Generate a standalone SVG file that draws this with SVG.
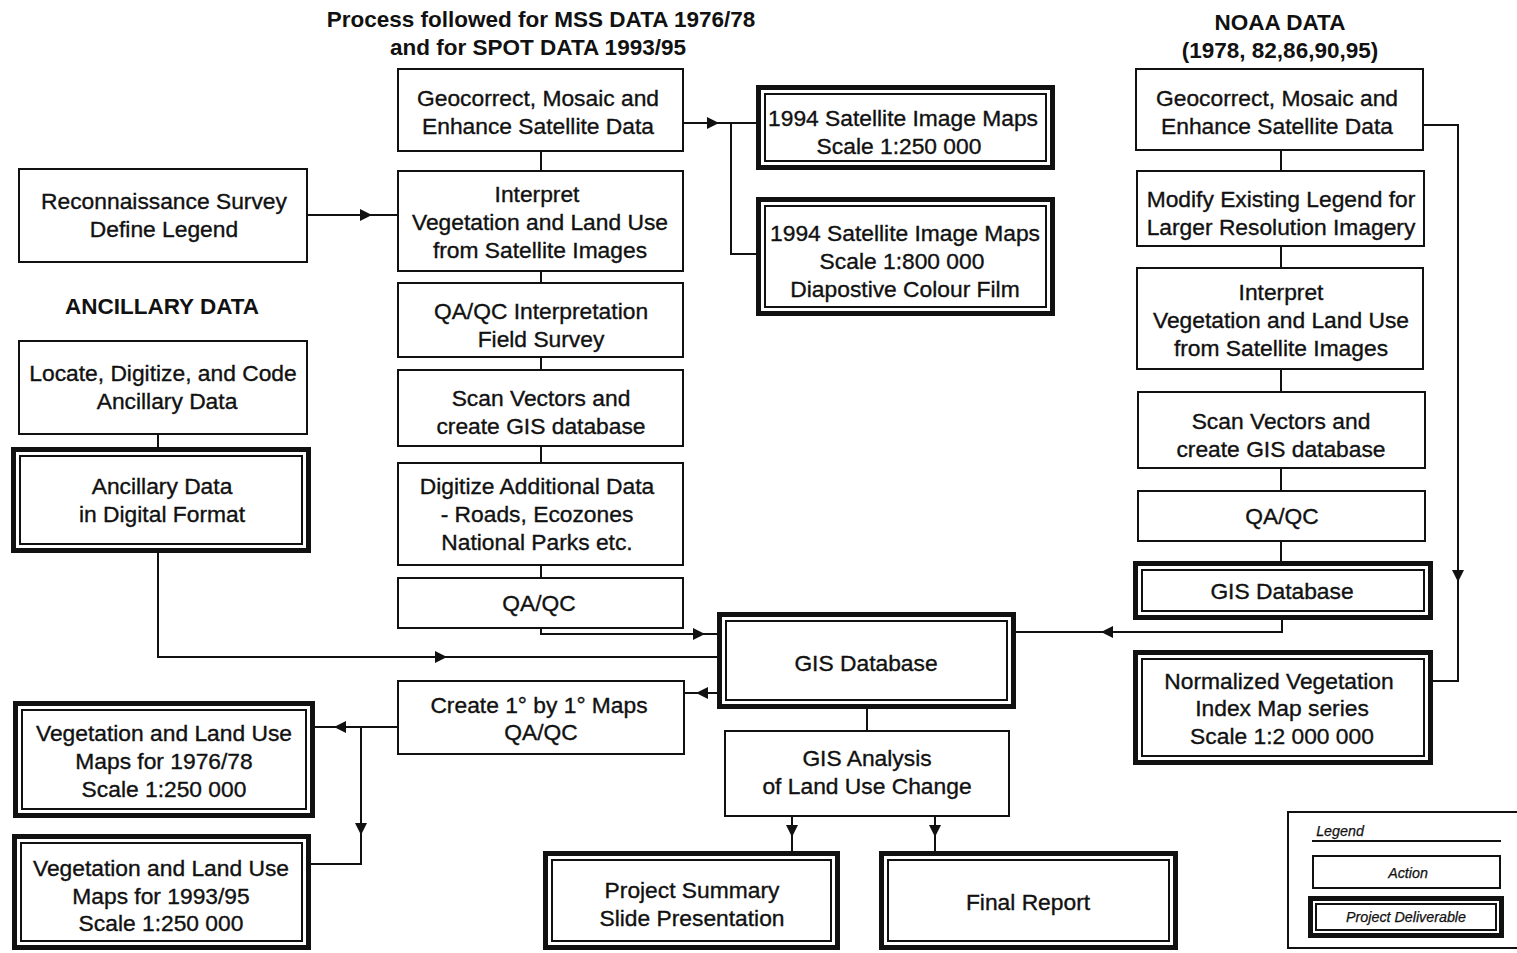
<svg xmlns="http://www.w3.org/2000/svg" xmlns:xlink="http://www.w3.org/1999/xlink" width="1517" height="953" viewBox="0 0 1517 953">
<style>
.bg{fill:#fff}
.act{fill:#fff;stroke:#111;stroke-width:2}
.dout{fill:#fff;stroke:#111;stroke-width:5}
.din{fill:none;stroke:#111;stroke-width:2}
.t{font-family:"Liberation Sans",Arial,Helvetica,sans-serif;font-size:22.8px;text-anchor:middle;fill:#111;stroke:#111;stroke-width:0.35}
.h{font-family:"Liberation Sans",Arial,Helvetica,sans-serif;font-size:22.5px;font-weight:bold;text-anchor:middle;fill:#111}
.lg{font-family:"Liberation Sans",Arial,Helvetica,sans-serif;font-size:14.3px;font-style:italic;text-anchor:middle;fill:#111;stroke:#111;stroke-width:0.25}
.c{fill:none;stroke:#111;stroke-width:2}
.ah{fill:#111}
</style>
<defs>
<path id="ah" class="ah" d="M6,0 L-6,-6 L-6,6 Z"/>
</defs>
<rect class="bg" x="0" y="0" width="1517" height="953"/>

<g id="headings">
<text class="h" x="541" y="27">Process followed for MSS DATA 1976/78</text>
<text class="h" x="538" y="55">and for SPOT DATA 1993/95</text>
<text class="h" x="1280" y="30">NOAA DATA</text>
<text class="h" x="1280" y="58">(1978, 82,86,90,95)</text>
<text class="h" x="162" y="314">ANCILLARY DATA</text>
</g>

<g id="connectors">
<path class="c" d="M541,151 V171 M541,271 V283 M541,357 V370 M541,446 V463 M541,565 V578"/>
<path class="c" d="M541,628 V634 H717"/>
<use xlink:href="#ah" transform="translate(699,634)"/>
<path class="c" d="M158,553 V657 H717"/>
<use xlink:href="#ah" transform="translate(441,657)"/>
<path class="c" d="M717,693 H684"/>
<use xlink:href="#ah" transform="translate(702,693) rotate(180)"/>
<path class="c" d="M307,215 H398"/>
<use xlink:href="#ah" transform="translate(366,215)"/>
<path class="c" d="M158,434 V447"/>
<path class="c" d="M398,727 H315 M361,727 V864 H311"/>
<use xlink:href="#ah" transform="translate(340,727) rotate(180)"/>
<use xlink:href="#ah" transform="translate(361,829) rotate(90)"/>
<path class="c" d="M683,123 H757 M731,123 V254 H757"/>
<use xlink:href="#ah" transform="translate(713,123)"/>
<path class="c" d="M867,709 V731"/>
<path class="c" d="M792,816 V851 M935,816 V851"/>
<use xlink:href="#ah" transform="translate(792,831) rotate(90)"/>
<use xlink:href="#ah" transform="translate(935,831) rotate(90)"/>
<path class="c" d="M1281,150 V171 M1281,246 V268 M1281,369 V392 M1281,468 V491 M1281,541 V561"/>
<path class="c" d="M1282,620 V632 H1016"/>
<use xlink:href="#ah" transform="translate(1107,632) rotate(180)"/>
<path class="c" d="M1423,125 H1458 V681 H1433"/>
<use xlink:href="#ah" transform="translate(1458,576) rotate(90)"/>
</g>

<g id="geocorrect-mss">
<rect class="act" x="398" y="69" width="285" height="82"/>
<text class="t" x="538" y="106">Geocorrect, Mosaic and</text>
<text class="t" x="538" y="134">Enhance Satellite Data</text>
</g>
<g id="interpret-mss">
<rect class="act" x="398" y="171" width="285" height="100"/>
<text class="t" x="537" y="202">Interpret</text>
<text class="t" x="540" y="230">Vegetation and Land Use</text>
<text class="t" x="540" y="258">from Satellite Images</text>
</g>
<g id="qaqc-interp">
<rect class="act" x="398" y="283" width="285" height="74"/>
<text class="t" x="541" y="319">QA/QC Interpretation</text>
<text class="t" x="541" y="347">Field Survey</text>
</g>
<g id="scan-mss">
<rect class="act" x="398" y="370" width="285" height="76"/>
<text class="t" x="541" y="406">Scan Vectors and</text>
<text class="t" x="541" y="434">create GIS database</text>
</g>
<g id="digitize">
<rect class="act" x="398" y="463" width="285" height="102"/>
<text class="t" x="537" y="494">Digitize Additional Data</text>
<text class="t" x="537" y="522">- Roads, Ecozones</text>
<text class="t" x="537" y="550">National Parks etc.</text>
</g>
<g id="qaqc-mss">
<rect class="act" x="398" y="578" width="285" height="50"/>
<text class="t" x="539" y="611">QA/QC</text>
</g>
<g id="create-maps">
<rect class="act" x="398" y="681" width="286" height="73"/>
<text class="t" x="539" y="713">Create 1° by 1° Maps</text>
<text class="t" x="541" y="740">QA/QC</text>
</g>

<g id="reconnaissance">
<rect class="act" x="19" y="169" width="288" height="93"/>
<text class="t" x="164" y="209">Reconnaissance Survey</text>
<text class="t" x="164" y="237">Define Legend</text>
</g>
<g id="locate">
<rect class="act" x="19" y="341" width="288" height="93"/>
<text class="t" x="163" y="381">Locate, Digitize, and Code</text>
<text class="t" x="167" y="409">Ancillary Data</text>
</g>
<g id="ancillary-digital">
<rect class="dout" x="13.5" y="449.5" width="295" height="101"/>
<rect class="din" x="20" y="456" width="282" height="88"/>
<text class="t" x="162" y="494">Ancillary Data</text>
<text class="t" x="162" y="522">in Digital Format</text>
</g>

<g id="sat-250">
<rect class="dout" x="758.5" y="87.5" width="294" height="80"/>
<rect class="din" x="765" y="94" width="281" height="67"/>
<text class="t" x="903" y="126">1994 Satellite Image Maps</text>
<text class="t" x="899" y="154">Scale 1:250 000</text>
</g>
<g id="sat-800">
<rect class="dout" x="758.5" y="199.5" width="294" height="114"/>
<rect class="din" x="765" y="206" width="281" height="101"/>
<text class="t" x="905" y="241">1994 Satellite Image Maps</text>
<text class="t" x="902" y="269">Scale 1:800 000</text>
<text class="t" x="905" y="297">Diapostive Colour Film</text>
</g>

<g id="gis-database">
<rect class="dout" x="719.5" y="614.5" width="294" height="92"/>
<rect class="din" x="726" y="621" width="281" height="79"/>
<text class="t" x="866" y="671">GIS Database</text>
</g>
<g id="gis-analysis">
<rect class="act" x="725" y="731" width="284" height="85"/>
<text class="t" x="867" y="766">GIS Analysis</text>
<text class="t" x="867" y="794">of Land Use Change</text>
</g>
<g id="project-summary">
<rect class="dout" x="545.5" y="853.5" width="292" height="94"/>
<rect class="din" x="552" y="860" width="279" height="81"/>
<text class="t" x="692" y="898">Project Summary</text>
<text class="t" x="692" y="926">Slide Presentation</text>
</g>
<g id="final-report">
<rect class="dout" x="881.5" y="853.5" width="294" height="94"/>
<rect class="din" x="888" y="860" width="281" height="81"/>
<text class="t" x="1028" y="910">Final Report</text>
</g>

<g id="veg-7678">
<rect class="dout" x="15.5" y="703.5" width="297" height="112"/>
<rect class="din" x="22" y="710" width="284" height="99"/>
<text class="t" x="164" y="741">Vegetation and Land Use</text>
<text class="t" x="164" y="769">Maps for 1976/78</text>
<text class="t" x="164" y="797">Scale 1:250 000</text>
</g>
<g id="veg-9395">
<rect class="dout" x="14.5" y="836.5" width="294" height="111"/>
<rect class="din" x="21" y="843" width="281" height="98"/>
<text class="t" x="161" y="876">Vegetation and Land Use</text>
<text class="t" x="161" y="904">Maps for 1993/95</text>
<text class="t" x="161" y="931">Scale 1:250 000</text>
</g>

<g id="geocorrect-noaa">
<rect class="act" x="1136" y="69" width="287" height="81"/>
<text class="t" x="1277" y="106">Geocorrect, Mosaic and</text>
<text class="t" x="1277" y="134">Enhance Satellite Data</text>
</g>
<g id="modify-legend">
<rect class="act" x="1137" y="171" width="287" height="75"/>
<text class="t" x="1281" y="207">Modify Existing Legend for</text>
<text class="t" x="1281" y="235">Larger Resolution Imagery</text>
</g>
<g id="interpret-noaa">
<rect class="act" x="1137" y="268" width="286" height="101"/>
<text class="t" x="1281" y="300">Interpret</text>
<text class="t" x="1281" y="328">Vegetation and Land Use</text>
<text class="t" x="1281" y="356">from Satellite Images</text>
</g>
<g id="scan-noaa">
<rect class="act" x="1138" y="392" width="287" height="76"/>
<text class="t" x="1281" y="429">Scan Vectors and</text>
<text class="t" x="1281" y="457">create GIS database</text>
</g>
<g id="qaqc-noaa">
<rect class="act" x="1138" y="491" width="287" height="50"/>
<text class="t" x="1282" y="524">QA/QC</text>
</g>
<g id="gis-database-noaa">
<rect class="dout" x="1135.5" y="563.5" width="295" height="54"/>
<rect class="din" x="1142" y="570" width="282" height="41"/>
<text class="t" x="1282" y="599">GIS Database</text>
</g>
<g id="ndvi">
<rect class="dout" x="1135.5" y="652.5" width="295" height="110"/>
<rect class="din" x="1142" y="659" width="282" height="97"/>
<text class="t" x="1279" y="689">Normalized Vegetation</text>
<text class="t" x="1282" y="716">Index Map series</text>
<text class="t" x="1282" y="744">Scale 1:2 000 000</text>
</g>

<g id="legend">
<rect class="act" x="1288" y="812" width="240" height="136"/>
<text class="lg" x="1340" y="836">Legend</text>
<path class="c" d="M1312,841 H1501"/>
<rect class="act" x="1313" y="856" width="187" height="32"/>
<text class="lg" x="1408" y="878">Action</text>
<rect class="dout" x="1310.5" y="898.5" width="191" height="37"/>
<rect class="din" x="1316" y="904" width="180" height="26"/>
<text class="lg" x="1406" y="922">Project Deliverable</text>
</g>
</svg>
